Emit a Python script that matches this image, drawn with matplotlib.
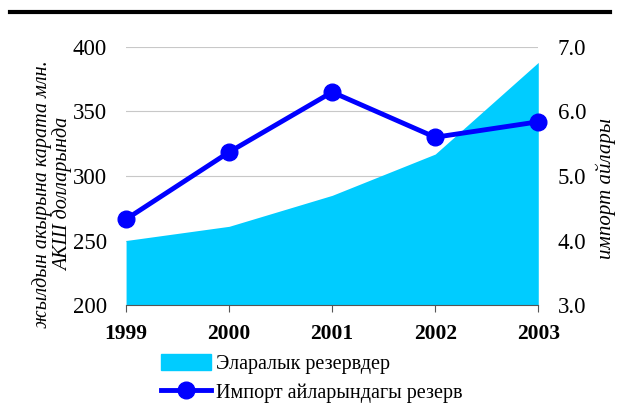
import matplotlib.pyplot as plt
from matplotlib.lines import Line2D
from matplotlib.patches import Patch

years = [1999, 2000, 2001, 2002, 2003]
reserves = [250, 261, 285, 317, 388]
import_months = [4.33, 5.37, 6.30, 5.60, 5.84]

plt.rcParams['font.family'] = ['Liberation Serif', 'DejaVu Serif']

fig = plt.figure(figsize=(6.18, 4.19), dpi=100)
ax = fig.add_axes([0.204, 0.272, 0.667, 0.616])

# area on the left axis
ax.fill_between(years, 200, reserves, color='#00ccff', linewidth=0, zorder=2)
ax.set_ylim(200, 400)
ax.set_xlim(1999, 2003)
ax.set_yticks([200, 250, 300, 350, 400])
ax.yaxis.grid(True, color='#c8c8c8', linewidth=0.8, zorder=0)
ax.set_xticks(years)
ax.set_xticklabels([str(y) for y in years], fontweight='bold', fontsize=15.5)
ax.tick_params(axis='y', length=0, labelsize=16.5, pad=14)
ax.tick_params(axis='x', length=5, color='#555555', direction='out', pad=9)
for s in ['top', 'left', 'right']:
    ax.spines[s].set_visible(False)
ax.spines['bottom'].set_color('#555555')
ax.set_ylabel('жылдын акырына карата млн.\nАКШ долларында', fontstyle='italic',
              fontsize=14.5, linespacing=1.1)
ax.yaxis.set_label_coords(-0.128, 0.43)

# line on the right axis
ax2 = ax.twinx()
ax2.plot(years, import_months, color='#0000ff', linewidth=3.5, marker='o',
         markersize=12, zorder=3, clip_on=False)
ax2.set_ylim(3, 7)
ax2.set_yticks([3, 4, 5, 6, 7])
ax2.set_yticklabels(['3.0', '4.0', '5.0', '6.0', '7.0'])
ax2.tick_params(axis='y', length=0, labelsize=16.5, pad=14)
for s in ['top', 'left', 'right', 'bottom']:
    ax2.spines[s].set_visible(False)
ax2.set_ylabel('импорт айлары', fontstyle='italic', fontsize=15)
ax2.yaxis.set_label_coords(1.14, 0.45)

# top rule
fig.add_artist(Line2D([0.016, 0.987], [0.971, 0.971], color='black', linewidth=3))

handles = [Patch(color='#00ccff', label='Эларалык резервдер'),
           Line2D([0], [0], color='#0000ff', linewidth=3.5, marker='o', markersize=12,
                  label='Импорт айларындагы резерв')]
fig.legend(handles=handles, loc='lower left', bbox_to_anchor=(0.237, 0.005),
           frameon=False, fontsize=14.5, handlelength=2.5, handleheight=0.8,
           labelspacing=0.45, borderaxespad=0.3, handletextpad=0.25)

fig.savefig('out.png', dpi=100)
